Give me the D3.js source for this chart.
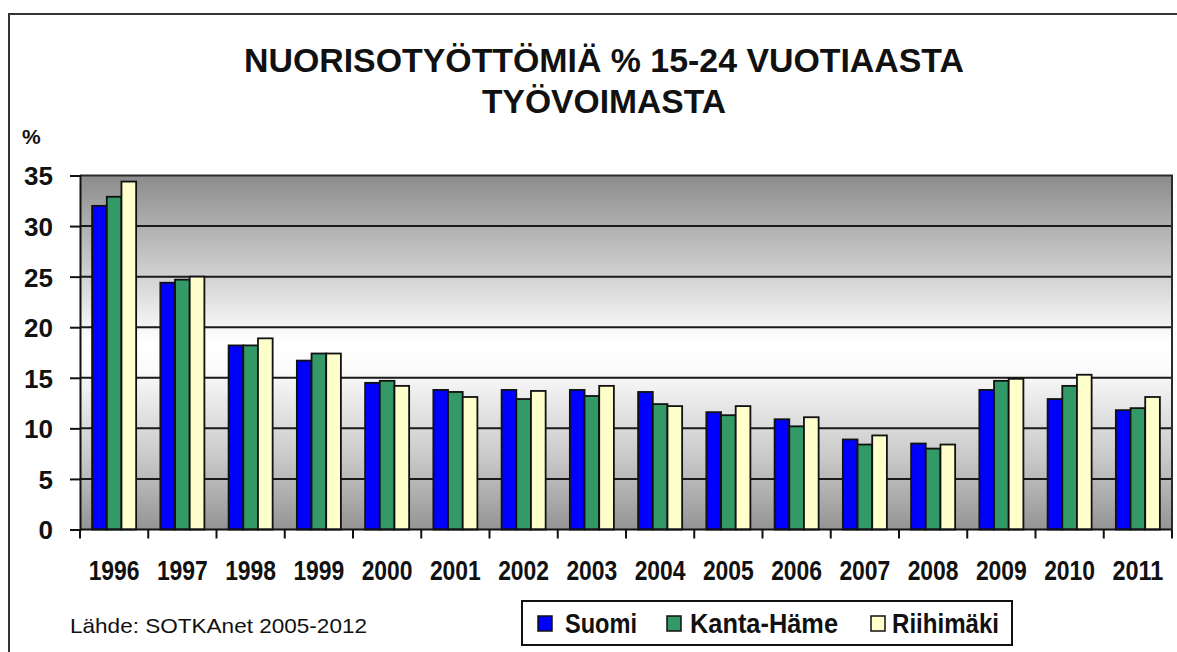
<!DOCTYPE html>
<html>
<head>
<meta charset="utf-8">
<script src="https://cdn.jsdelivr.net/npm/d3@7"></script>
<style>
  html, body { margin: 0; padding: 0; background: #ffffff; }
  svg { display: block; }
  text { font-family: "Liberation Sans", Arial, sans-serif; fill: #111; }
</style>
</head>
<body>
<svg id="chart" width="1177" height="652"></svg>
<script>
const years = ["1996","1997","1998","1999","2000","2001","2002","2003","2004","2005","2006","2007","2008","2009","2010","2011"];
const seriesNames = ["Suomi", "Kanta-Häme", "Riihimäki"];
const suomi     = [32.0, 24.4, 18.2, 16.7, 14.5, 13.8, 13.8, 13.8, 13.6, 11.6, 10.9, 8.9, 8.5, 13.8, 12.9, 11.8];
const kantaHame = [32.9, 24.7, 18.2, 17.4, 14.7, 13.6, 12.9, 13.2, 12.4, 11.3, 10.2, 8.4, 8.0, 14.7, 14.2, 12.0];
const riihimaki = [34.4, 25.0, 18.9, 17.4, 14.2, 13.1, 13.7, 14.2, 12.2, 12.2, 11.1, 9.3, 8.4, 14.9, 15.3, 13.1];
const yTicks = [0, 5, 10, 15, 20, 25, 30, 35];
const titleLines = ["NUORISOTYÖTTÖMIÄ % 15-24 VUOTIAASTA", "TYÖVOIMASTA"];
const yUnit = "%";
const source = "Lähde: SOTKAnet 2005-2012";

const colors = ["#0000ff", "#339966", "#ffffcc"];
const seriesValues = [suomi, kantaHame, riihimaki];

const svg = d3.select("#chart");
const pL = 80, pR = 1172, pT = 175.5, pB = 529.5;

// outer frame
svg.append("rect").attr("x", 9).attr("y", 14).attr("width", 1200).attr("height", 700)
  .attr("fill", "#fff").attr("stroke", "#333").attr("stroke-width", 2);

// gradient
const defs = svg.append("defs");
const grad = defs.append("linearGradient").attr("id", "bg").attr("x1", 0).attr("y1", 0).attr("x2", 0).attr("y2", 1);
[[0, "#8c8c8c"], [0.2, "#bdbdbd"], [0.47, "#ffffff"], [0.55, "#fbfbfb"], [0.8, "#c8c8c8"], [1, "#949494"]]
  .forEach(([o, c]) => grad.append("stop").attr("offset", o).attr("stop-color", c));

const x0 = d3.scaleBand().domain(years).range([pL, pR]).paddingInner(0.355).paddingOuter(0.1775);
const x1 = d3.scaleBand().domain(seriesNames).range([0, x0.bandwidth()]);
const y = d3.scaleLinear().domain([0, 35]).range([pB, pT]);

svg.append("rect").attr("x", pL).attr("y", pT).attr("width", pR - pL).attr("height", pB - pT)
  .attr("fill", "url(#bg)");

// gridlines
svg.append("g").selectAll("line").data(yTicks.filter(d => d > 0 && d < 35)).join("line")
  .attr("x1", pL).attr("x2", pR).attr("y1", d => y(d)).attr("y2", d => y(d))
  .attr("stroke", "#1a1a1a").attr("stroke-width", 2);

// plot border top and right
svg.append("path").attr("d", `M${pL},${pT}H${pR}V${pB}`).attr("fill", "none")
  .attr("stroke", "#2a2a2a").attr("stroke-width", 2);

// bars
const rows = years.map((yr, i) => ({ year: yr, vals: seriesNames.map((s, j) => ({ s, j, v: seriesValues[j][i] })) }));
svg.append("g").selectAll("g").data(rows).join("g")
  .attr("transform", d => `translate(${x0(d.year)},0)`)
  .selectAll("rect").data(d => d.vals).join("rect")
  .attr("x", d => x1(d.s)).attr("width", x1.bandwidth())
  .attr("y", d => y(d.v)).attr("height", d => y(0) - y(d.v))
  .attr("fill", d => colors[d.j]).attr("stroke", "#111").attr("stroke-width", 1.8);

// y axis
const yAxis = d3.axisLeft(y).tickValues(yTicks).tickSize(10).tickPadding(17).tickFormat(d3.format("d"));
const ya = svg.append("g").attr("transform", `translate(${pL},0)`).call(yAxis);
ya.select(".domain").attr("stroke", "#111").attr("stroke-width", 2);
ya.selectAll(".tick line").attr("stroke", "#111").attr("stroke-width", 2);
ya.selectAll(".tick text").attr("font-size", 26).attr("font-weight", "bold")
  .attr("font-family", "Liberation Sans, Arial, sans-serif").attr("fill", "#222").attr("dy", "0.36em");

// x axis
const step = x0.step();
const boundaries = years.map(yr => x0(yr) - step * 0.1775).concat([pR]);
const xa = svg.append("g");
xa.append("line").attr("x1", pL).attr("x2", pR).attr("y1", pB).attr("y2", pB)
  .attr("stroke", "#111").attr("stroke-width", 2);
xa.selectAll("line.tk").data(boundaries).join("line").attr("class", "tk")
  .attr("x1", d => d).attr("x2", d => d).attr("y1", pB).attr("y2", pB + 9)
  .attr("stroke", "#111").attr("stroke-width", 2);
xa.selectAll("text").data(years).join("text")
  .attr("x", d => x0(d) + x0.bandwidth() / 2).attr("y", 580)
  .attr("text-anchor", "middle").attr("font-size", 27).attr("font-weight", "bold")
  .attr("textLength", 51).attr("lengthAdjust", "spacingAndGlyphs").attr("fill", "#1a1a1a")
  .text(d => d);

// title
svg.append("g").selectAll("text").data(titleLines).join("text")
  .attr("x", 604).attr("y", (d, i) => 72 + i * 41).attr("text-anchor", "middle")
  .attr("font-size", 34).attr("font-weight", "bold").attr("fill", "#111")
  .attr("textLength", (d, i) => i === 0 ? 720 : 244).attr("lengthAdjust", "spacingAndGlyphs")
  .text(d => d);

// unit
svg.append("text").attr("x", 22).attr("y", 144).attr("font-size", 21).attr("font-weight", "bold")
  .attr("fill", "#222").text(yUnit);

// source
svg.append("text").attr("x", 70).attr("y", 633).attr("font-size", 21).attr("fill", "#222")
  .attr("textLength", 297).attr("lengthAdjust", "spacingAndGlyphs").text(source);

// legend
const lg = svg.append("g");
lg.append("rect").attr("x", 522).attr("y", 601).attr("width", 490).attr("height", 44)
  .attr("fill", "#fff").attr("stroke", "#111").attr("stroke-width", 2);
const legendSwatchX = [538, 667, 871];
const legendTextX = [565, 690, 892];
const legendTextLen = [72, 148, 107];
seriesNames.forEach((s, i) => {
  lg.append("rect").attr("x", legendSwatchX[i]).attr("y", 616).attr("width", 14).attr("height", 15)
    .attr("fill", colors[i]).attr("stroke", "#111").attr("stroke-width", 1.5);
  lg.append("text").attr("x", legendTextX[i]).attr("y", 633).attr("font-size", 27).attr("font-weight", "bold")
    .attr("fill", "#1a1a1a").attr("textLength", legendTextLen[i]).attr("lengthAdjust", "spacingAndGlyphs").text(s);
});
</script>
</body>
</html>
